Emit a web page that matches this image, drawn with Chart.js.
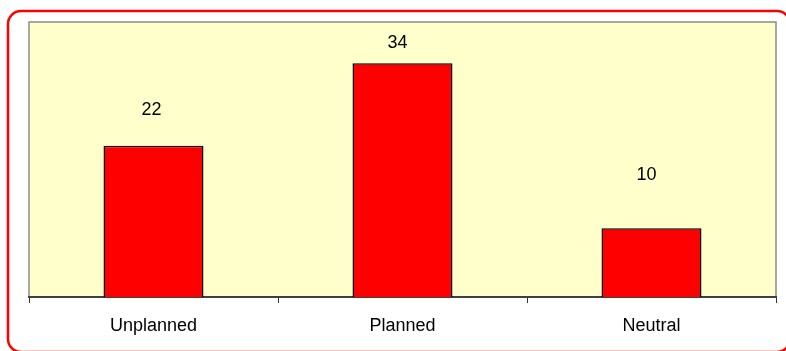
<!DOCTYPE html>
<html>
<head>
<meta charset="utf-8">
<script src="https://cdn.jsdelivr.net/npm/chart.js@4.4.1/dist/chart.umd.min.js"></script>
<style>
  html, body { margin: 0; padding: 0; background: #ffffff; }
  #wrap { position: relative; width: 786px; height: 351px; }
</style>
</head>
<body>
<div id="wrap"><canvas id="c" width="786" height="351"></canvas></div>
<script>
// Survey result counts by category
const categories = ['Unplanned', 'Planned', 'Neutral'];
const counts = [22, 34, 10];
const axisMax = 40;

const FONT = '"Liberation Sans", Arial, Helvetica, sans-serif';

// Outer rounded red frame and the pale plot background
const framePlugin = {
  id: 'frame',
  beforeDraw(chart) {
    const { ctx, chartArea: a } = chart;
    ctx.save();
    ctx.fillStyle = '#ffffff';
    ctx.fillRect(0, 0, chart.width, chart.height);
    // rounded border
    ctx.strokeStyle = '#ff0000';
    ctx.lineWidth = 2.5;
    ctx.beginPath();
    ctx.roundRect(8, 11, 782, 341, 13);
    ctx.stroke();
    // plot background
    ctx.fillStyle = '#ffffcc';
    ctx.fillRect(a.left, a.top, a.right - a.left, a.bottom - a.top);
    // grey frame on top, left and right
    ctx.strokeStyle = '#8c8c8c';
    ctx.lineWidth = 1.5;
    ctx.beginPath();
    ctx.moveTo(a.left, a.bottom);
    ctx.lineTo(a.left, a.top);
    ctx.lineTo(a.right, a.top);
    ctx.lineTo(a.right, a.bottom);
    ctx.stroke();
    ctx.restore();
  }
};

// Value labels above each bar
const valueLabelPlugin = {
  id: 'valueLabels',
  afterDatasetsDraw(chart, args, opts) {
    const { ctx } = chart;
    const meta = chart.getDatasetMeta(0);
    ctx.save();
    ctx.fillStyle = '#000000';
    ctx.font = '18px ' + FONT;
    ctx.textAlign = 'center';
    ctx.textBaseline = 'middle';
    meta.data.forEach((bar, i) => {
      const v = chart.data.datasets[0].data[i];
      const dx = opts.dx[i] || 0;
      const dy = opts.dy[i] || 0;
      ctx.fillText(String(v), bar.x + dx, bar.y - dy);
    });
    ctx.restore();
  }
};

new Chart(document.getElementById('c'), {
  type: 'bar',
  data: {
    labels: categories,
    datasets: [{
      data: counts,
      backgroundColor: '#ff0000',
      borderColor: '#000000',
      borderWidth: 1.5,
      borderSkipped: 'start',
      barPercentage: 0.8,
      categoryPercentage: 0.502
    }]
  },
  options: {
    responsive: false,
    animation: false,
    devicePixelRatio: 1,
    layout: { padding: { left: 29, right: 10, top: 22, bottom: 0 } },
    plugins: {
      legend: { display: false },
      tooltip: { enabled: false },
      valueLabels: { dx: [-2, -5, -5], dy: [36, 20, 53] }
    },
    scales: {
      y: {
        display: false,
        min: 0,
        max: axisMax
      },
      x: {
        grid: {
          display: true,
          drawOnChartArea: false,
          drawTicks: true,
          tickLength: 6,
          color: '#333333',
          lineWidth: 1
        },
        border: { display: true, color: '#404040', width: 2 },
        ticks: {
          color: '#000000',
          font: { family: FONT, size: 18 },
          padding: 12,
          maxRotation: 0
        },
        afterFit(scale) { scale.height = 54; }
      }
    }
  },
  plugins: [framePlugin, valueLabelPlugin]
});
</script>
</body>
</html>
